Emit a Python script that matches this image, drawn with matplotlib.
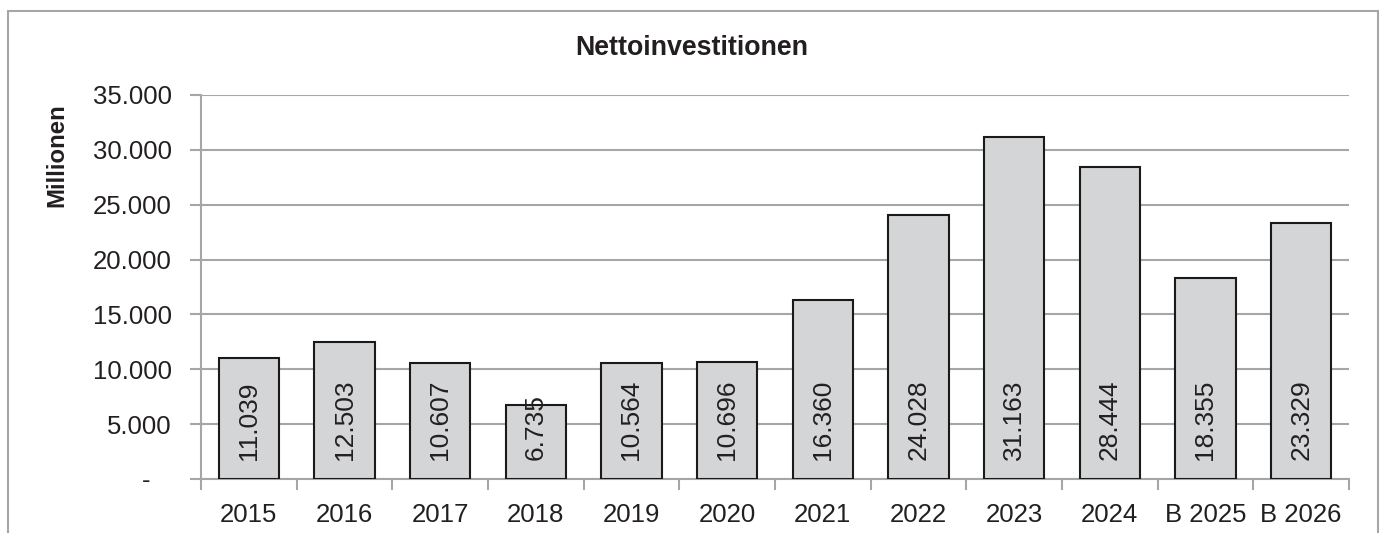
import matplotlib
matplotlib.use("Agg")
import matplotlib.pyplot as plt
from matplotlib.patches import Rectangle

years = ["2015", "2016", "2017", "2018", "2019", "2020", "2021", "2022",
         "2023", "2024", "B 2025", "B 2026"]
values = [11039, 12503, 10607, 6735, 10564, 10696, 16360, 24028,
          31163, 28444, 18355, 23329]
yticks = [0, 5000, 10000, 15000, 20000, 25000, 30000, 35000]


def de_fmt(v):
    # German thousands separator, zero shown as dash (accounting style)
    if v == 0:
        return "-   "
    return f"{v:,.0f}".replace(",", ".")


plt.rcParams["font.family"] = ["Liberation Sans", "DejaVu Sans"]

fig = plt.figure(figsize=(13.82, 5.33), dpi=100)
ax = fig.add_axes([201 / 1382, 1 - 479 / 533, (1349 - 201) / 1382, (479 - 95) / 533])

# outer chart frame (bottom edge runs off the image)
fig.patches.append(Rectangle((8 / 1382, -0.05), (1378 - 8) / 1382, 1.05 - 11 / 533,
                             transform=fig.transFigure, fill=False,
                             edgecolor="#a6a6a6", linewidth=1.5))

x = list(range(len(years)))
ax.bar(x, values, width=0.63, color="#d4d5d7", edgecolor="#1a1a1a",
       linewidth=1.5, zorder=3)

for xi, v in zip(x, values):
    ax.text(xi, 1700, de_fmt(v), rotation=90, ha="center", va="bottom",
            fontsize=19, color="#231f20", zorder=4)

ax.set_xlim(-0.5, len(years) - 0.5)
ax.set_ylim(0, 35000)
ax.set_yticks(yticks)
ax.set_yticklabels([de_fmt(t) for t in yticks], fontsize=18.5, color="#231f20")
ax.set_xticks(x)
ax.set_xticklabels(years, fontsize=18.5, color="#231f20")
ax.tick_params(axis="x", length=0, pad=17)
ax.tick_params(axis="y", length=8, color="#a6a6a6", width=1.5, pad=13)

# category separator ticks below the axis
ax.set_xticks([i - 0.5 for i in range(len(years) + 1)], minor=True)
ax.tick_params(axis="x", which="minor", length=8, color="#a6a6a6", width=1.5)

ax.grid(axis="y", color="#a6a6a6", linewidth=1.5, zorder=0)
for side in ["top", "right"]:
    ax.spines[side].set_visible(False)
ax.spines["left"].set_color("#a6a6a6")
ax.spines["left"].set_linewidth(1.5)
ax.spines["bottom"].set_color("#a6a6a6")
ax.spines["bottom"].set_linewidth(1.5)

fig.text(692 / 1382, 1 - 48 / 533, "Nettoinvestitionen", ha="center",
         va="center", fontsize=19.3, fontweight="bold", color="#231f20")
fig.text(57 / 1382, 1 - 155 / 533, "Millionen", ha="center", va="center",
         rotation=90, fontsize=17.3, fontweight="bold", color="#231f20")

fig.savefig("out.png", dpi=100)
